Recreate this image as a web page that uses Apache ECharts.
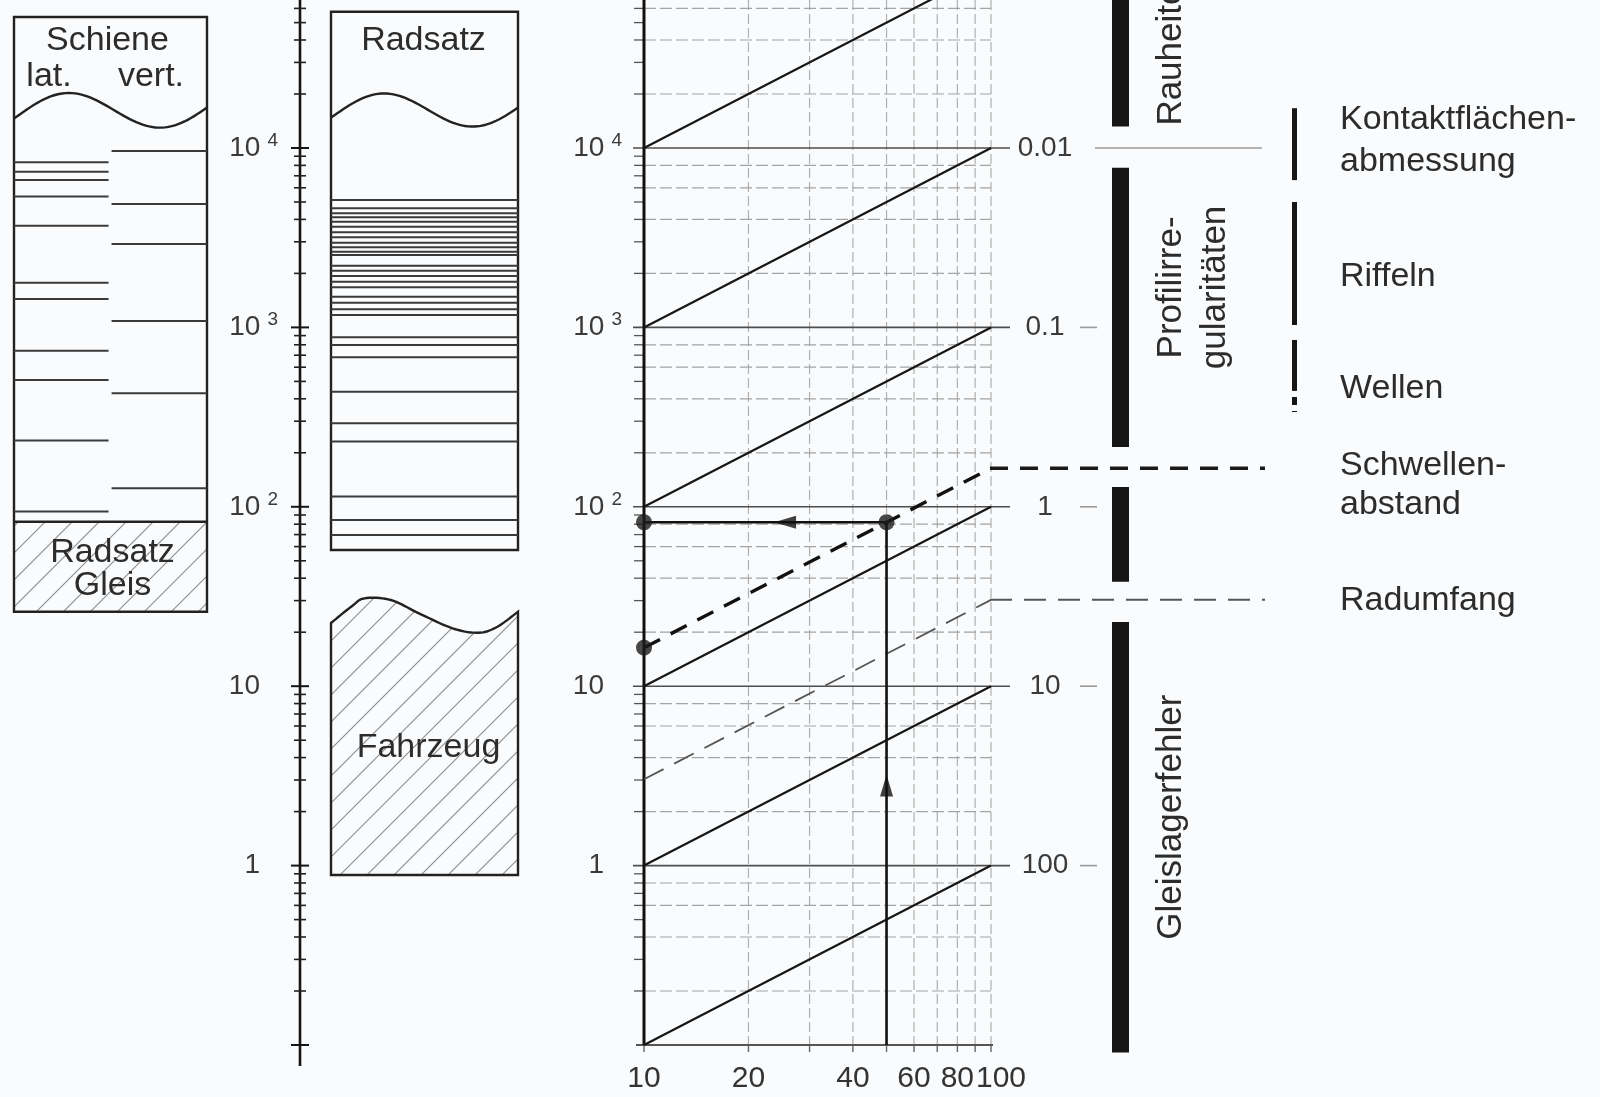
<!DOCTYPE html>
<html lang="de">
<head>
<meta charset="utf-8">
<title>Frequenz-Wellenlängen-Nomogramm</title>
<script src="https://cdn.jsdelivr.net/npm/echarts@6.0.0/dist/echarts.min.js"></script>
<style>
html,body{margin:0;padding:0;background:#f9fbfd;}
#chart{width:1600px;height:1097px;}
</style>
</head>
<body>
<div id="chart"></div>
<script>
// ================= DATA =================
const freqMin = 0.1;
const freqMax = 66830;          // upper end of the frequency scale at the top edge
const freqDecades = [0.1, 1, 10, 100, 1000, 10000];
const freqMinorSteps = [2, 3, 4, 5, 6, 7, 8, 9];
const freqGridSteps = [2, 4, 6, 8];
const freqTickValues = [1, 10, 100, 1000, 10000];
const freqTickBase = ['1', '10', '10', '10', '10'];
const freqTickExp = ['', '', '2', '3', '4'];

const speedMin = 10;
const speedMax = 100;
const speedGridValues = [10, 20, 30, 40, 50, 60, 70, 80, 90, 100];
const speedTickValues = [10, 20, 40, 60, 80, 100];
const speedTickText = ['10', '20', '40', '60', '80', '100'];

// lines of constant wavelength: frequency at v = 10 and at v = 100
const lambdaLineStart = [0.1, 1, 10, 100, 1000, 10000];
const lambdaLineEnd = [1, 10, 100, 1000, 10000, 100000];
const lambdaMin = 0.0014963;    // wavelength at the top edge (at v = 100)
const lambdaMax = 1000;
const lambdaTickValues = [0.01, 0.1, 1, 10, 100];
const lambdaTickText = ['0.01', '0.1', '1', '10', '100'];

const sleeperLine = [16.4, 164];   // Schwellenabstand (f at v=10, v=100)
const wheelLine = [3.03, 30.3];    // Radumfang
const refLambda = [0.61, 3.3];
const refNames = ['Schwellen-\nabstand', 'Radumfang'];

const examplePath = [[50, 0.1], [50, 82], [10, 82]];
const exampleDots = [[50, 82], [10, 82], [10, 16.4]];
const arrowUp = [[50, 2.8]];
const arrowLeft = [[25.5, 82]];

// Schiene panel (Hz): top, start of hatched part, bottom
const schieneBox = [53700, 82.6, 26];
const schieneLat = [8320, 7380, 6640, 5360, 3690, 1775, 1440, 741, 509, 234, 94];
const schieneVert = [9620, 4870, 2920, 1086, 430, 127];
// Radsatz / Fahrzeug panel (Hz)
const radsatzBox = [57500, 57.4];
const radsatzLines = [5130, 4610, 4325, 4110, 3885, 3640, 3390, 3178, 2966, 2796, 2642, 2533,
  2208, 2070, 1934, 1797, 1673, 1483, 1373, 1262, 1172, 881, 798, 681, 438, 292, 231, 114, 84.4, 69.6];
const fahrzeugBox = [25, 0.886];

// classification by wavelength (m)
const classNames = ['Rauheiten', 'Profilirre-\ngularitäten', '', 'Gleislagerfehler'];
const classFrom = [0.0005, 0.0129, 0.776, 4.39];
const classTo = [0.0076, 0.464, 2.62, 1100];
const featureNames = ['Kontaktflächen-\nabmessung', 'Riffeln', 'Wellen'];
const featureFrom = [0.006, 0.02, 0.1175];
const featureTo = [0.0151, 0.097, 0.226];
const featureTailTo = [null, null, 0.296];   // uncertain (broken) continuation
const boundaryLambda = 0.01;

// ================= STYLE / HELPERS =================
const FONT = "'Liberation Sans', Arial, Helvetica, sans-serif";
const INK = '#222222';
const TXT = '#2c2c2c';
const GRID_TOP = 0;
const GRID_H = 1045;

function makeHatch(size, color) {
  const c = document.createElement('canvas');
  c.width = size; c.height = size;
  const g = c.getContext('2d');
  g.strokeStyle = color; g.lineWidth = 1.1;
  g.beginPath();
  g.moveTo(0, size); g.lineTo(size, 0);
  g.moveTo(-2, 2); g.lineTo(2, -2);
  g.moveTo(size - 2, size + 2); g.lineTo(size + 2, size - 2);
  g.stroke();
  return c;
}
const hatch = { image: makeHatch(27, '#8c8c8c'), repeat: 'repeat' };

function L(x1, y1, x2, y2, color, w, dash) {
  const st = { stroke: color, lineWidth: w };
  if (dash) st.lineDash = dash;
  return { type: 'line', shape: { x1, y1, x2, y2 }, style: st };
}
function T(x, y, text, size, align, vAlign, extra) {
  const st = Object.assign({ text, fontSize: size, fontFamily: FONT, fill: TXT,
    align: align || 'center', verticalAlign: vAlign || 'middle' }, extra || {});
  return { type: 'text', x, y, style: st };
}
function fy(api, f) { return api.coord([0, f])[1]; }
function sineWave(x0, x1, yRef, c, A, p, tilt) {
  const pts = [];
  for (let i = 0; i <= 60; i++) {
    const t = i / 60;
    pts.push([x0 + t * (x1 - x0), yRef + c - A * Math.sin(2 * Math.PI * (t - p)) + tilt * (1 - 2 * t)]);
  }
  return pts;
}
function catmull(pts, n) {
  const out = [];
  for (let i = 0; i < pts.length - 1; i++) {
    const p0 = pts[Math.max(i - 1, 0)], p1 = pts[i], p2 = pts[i + 1], p3 = pts[Math.min(i + 2, pts.length - 1)];
    for (let k = 0; k < n; k++) {
      const t = k / n, t2 = t * t, t3 = t2 * t;
      out.push([0, 1].map(j => 0.5 * (2 * p1[j] + (-p0[j] + p2[j]) * t +
        (2 * p0[j] - 5 * p1[j] + 4 * p2[j] - p3[j]) * t2 + (-p0[j] + 3 * p1[j] - 3 * p2[j] + p3[j]) * t3)));
    }
  }
  out.push(pts[pts.length - 1]);
  return out;
}

// ================= RENDERERS =================
function renderSchiene(params, api) {
  const cs = params.coordSys;
  const x0 = cs.x, x1 = cs.x + cs.width;
  const xm = api.coord([0.49, 1])[0];
  const yT = fy(api, schieneBox[0]), yS = fy(api, schieneBox[1]), yB = fy(api, schieneBox[2]);
  const ch = [];
  ch.push({ type: 'rect', shape: { x: x0, y: yS, width: x1 - x0, height: yB - yS }, style: { fill: hatch, stroke: 'none' } });
  ch.push({ type: 'rect', shape: { x: x0, y: yT, width: x1 - x0, height: yB - yT }, style: { fill: 'none', stroke: INK, lineWidth: 2.4 } });
  ch.push(L(x0, yS, x1, yS, INK, 2.4));
  ch.push({ type: 'polyline', shape: { points: sineWave(x0, x1, yT, 93.5, 20, 0.02, 5.5) }, style: { fill: 'none', stroke: INK, lineWidth: 2.4 } });
  schieneLat.forEach(f => { const y = fy(api, f); ch.push(L(x0, y, xm, y, '#3a3a3a', 2)); });
  schieneVert.forEach(f => { const y = fy(api, f); ch.push(L(xm + 3, y, x1, y, '#3a3a3a', 2)); });
  ch.push(T((x0 + x1) / 2 - 3, yT + 24, 'Schiene', 34));
  ch.push(T(x0 + 35, yT + 60, 'lat.', 34));
  ch.push(T(x1 - 56, yT + 60, 'vert.', 34));
  ch.push(T((x0 + x1) / 2 + 2, yS + 31, 'Radsatz', 34));
  ch.push(T((x0 + x1) / 2 + 2, yS + 64, 'Gleis', 34));
  return { type: 'group', children: ch };
}

function renderRadsatz(params, api) {
  const cs = params.coordSys;
  const x0 = cs.x, x1 = cs.x + cs.width;
  const yT = fy(api, radsatzBox[0]), yB = fy(api, radsatzBox[1]);
  const ch = [];
  ch.push({ type: 'rect', shape: { x: x0, y: yT, width: x1 - x0, height: yB - yT }, style: { fill: 'none', stroke: INK, lineWidth: 2.4 } });
  ch.push({ type: 'polyline', shape: { points: sineWave(x0, x1, yT, 98.5, 19, 0.02, 5) }, style: { fill: 'none', stroke: INK, lineWidth: 2.4 } });
  radsatzLines.forEach(f => { const y = fy(api, f); ch.push(L(x0, y, x1, y, '#3a3a3a', 2)); });
  ch.push(T((x0 + x1) / 2 - 1, yT + 29, 'Radsatz', 34));
  // Fahrzeug
  const yF = fy(api, fahrzeugBox[0]), yFB = fy(api, fahrzeugBox[1]);
  const fr = [0, 0.108, 0.18, 0.32, 0.47, 0.65, 0.79, 0.89, 1];
  const dy = [8.2, -8.1, -16.5, -14.8, -1.5, 13.5, 17.9, 11.9, -3.1];
  const top = catmull(fr.map((t, i) => [x0 + t * (x1 - x0), yF + dy[i]]), 10);
  const poly = top.concat([[x1, yFB], [x0, yFB]]);
  ch.push({ type: 'polygon', shape: { points: poly }, style: { fill: hatch, stroke: INK, lineWidth: 2.4 } });
  ch.push(T((x0 + x1) / 2 + 4, (yF + yFB) / 2 + 3, 'Fahrzeug', 34));
  return { type: 'group', children: ch };
}

function renderLeftAxis(params, api) {
  const cs = params.coordSys;
  const x = cs.x;
  const yBot = fy(api, freqMin);
  const ch = [L(x, 0, x, yBot + 21, '#151515', 2.6)];
  freqDecades.forEach(d => {
    const y = fy(api, d);
    ch.push(L(x - 9, y, x + 9, y, '#151515', 2));
    freqMinorSteps.forEach(m => { const yy = fy(api, d * m); if (yy >= 0) ch.push(L(x - 6, yy, x + 6, yy, '#202020', 1.6)); });
  });
  return { type: 'group', children: ch };
}

function renderMainFrame(params, api) {
  const cs = params.coordSys;
  const xL = cs.x, xR = cs.x + cs.width;
  const yBot = fy(api, freqMin);
  const ch = [];
  speedGridValues.forEach(v => {
    const x = api.coord([v, freqMin])[0];
    if (v !== speedMin) ch.push(L(x, 0, x, yBot, '#b0b0b0', 1.2, [10, 4]));
    ch.push(L(x, yBot, x, yBot + 7, '#666', 1.4));
  });
  freqDecades.forEach(d => {
    freqGridSteps.forEach(m => { const y = fy(api, d * m); if (y >= 0) ch.push(L(xL, y, xR, y, '#a4a4a4', 1.2, [12, 4])); });
    freqMinorSteps.forEach(m => { const y = fy(api, d * m); if (y >= 0) ch.push(L(xL - 10, y, xL, y, '#555', 1.3)); });
    if (d > freqMin) { const y = fy(api, d); ch.push(L(xL - 11, y, xR + 19, y, '#4e4e4e', 1.6)); }
  });
  ch.push(L(xL - 8, yBot, xR + 2, yBot, '#555', 2));
  ch.push(L(xL, 0, xL, yBot, '#111', 3));
  return { type: 'group', children: ch };
}

function renderSpeedLabel(params, api) {
  const v = api.value(0);
  const p = api.coord([v, freqMin]);
  const last = params.dataIndex === speedTickText.length - 1;
  // the last label is pushed right so that it does not collide with its neighbour
  return T(p[0] + (last ? 10 : 0), p[1] + 34, speedTickText[params.dataIndex], 30, 'center', 'middle', { fill: '#333' });
}

function renderAnnotations(params, api) {
  const cs = params.coordSys;
  const X = cs.x;
  const H = 1097;
  const ch = [];
  // classification bars
  classFrom.forEach((a, i) => {
    const ya = api.coord([0, a])[1], yb = api.coord([0, classTo[i]])[1];
    ch.push({ type: 'rect', shape: { x: X + 121, y: ya, width: 17, height: yb - ya }, style: { fill: '#161616' } });
    if (classNames[i]) {
      const nLines = classNames[i].split('\n').length;
      const clipped = ya < 0;
      const yc = clipped ? yb - 1 : (ya + Math.min(yb, H)) / 2 - 20;
      ch.push({ type: 'text', x: X + 180 + (nLines - 1) * 22, y: yc, rotation: Math.PI / 2,
        style: { text: classNames[i], fontSize: 35, fontFamily: FONT, fill: TXT,
          align: clipped ? 'left' : 'center', verticalAlign: 'middle', lineHeight: 44 } });
    }
  });
  // feature segments
  featureFrom.forEach((a, i) => {
    const ya = api.coord([0, a])[1], yb = api.coord([0, featureTo[i]])[1];
    ch.push({ type: 'rect', shape: { x: X + 301, y: ya, width: 5, height: yb - ya }, style: { fill: '#161616' } });
    let yEnd = yb;
    if (featureTailTo[i]) {
      yEnd = api.coord([0, featureTailTo[i]])[1];
      ch.push(L(X + 303.5, yb + 6, X + 303.5, yEnd, '#161616', 5, [8, 6]));
    }
    const nLines = featureNames[i].split('\n').length;
    ch.push(T(X + 349, (ya + yEnd) / 2 + 34 + (nLines - 1) * 4, featureNames[i], 34, 'left', 'bottom', { lineHeight: 42 }));
  });
  // wavelength tick dashes to the right of labels
  lambdaTickValues.forEach(l => {
    const y = api.coord([0, l])[1];
    if (l === boundaryLambda) ch.push(L(X + 104, y, X + 271, y, '#9a9a9a', 1.6));
    else ch.push(L(X + 89, y, X + 106, y, '#9a9a9a', 1.6));
  });
  // reference wavelengths (sleeper spacing, wheel circumference)
  refLambda.forEach((l, i) => {
    const y = api.coord([0, l])[1];
    if (i === 0) ch.push(L(X - 1, y, X + 274, y, '#1a1a1a', 3.4, [18, 12]));
    else ch.push(L(X - 1, y, X + 274, y, '#555', 2, [22, 12]));
    const nLines = refNames[i].split('\n').length;
    ch.push(T(X + 349, y - 22 + (nLines === 1 ? 3 : 0), refNames[i], 34, 'left', 'top', { lineHeight: 39 }));
  });
  return { type: 'group', children: ch };
}

// ================= AXES =================
function freqAxis(gridIndex, withLabels) {
  const ax = { type: 'log', logBase: 10, min: freqMin, max: freqMax, gridIndex,
    axisLine: { show: false }, axisTick: { show: false }, splitLine: { show: false },
    axisLabel: { show: false } };
  if (withLabels) {
    ax.axisLabel = {
      show: true, margin: 22, showMaxLabel: false,
      formatter: function (v) {
        const i = freqTickValues.findIndex(t => Math.abs(Math.log10(t) - Math.log10(v)) < 1e-6);
        if (i < 0) return '';
        return freqTickExp[i] ? '{b|' + freqTickBase[i] + '}{s|' + freqTickExp[i] + '}'
                              : '{b|' + freqTickBase[i] + '}{p| }';
      },
      rich: {
        b: { fontSize: 28, fontFamily: FONT, color: '#3a3a3a', lineHeight: 34, verticalAlign: 'middle' },
        s: { fontSize: 19, fontFamily: FONT, color: '#3a3a3a', verticalAlign: 'top', padding: [0, 0, 0, 7] },
        p: { width: 18, fontSize: 19 }
      }
    };
  }
  return ax;
}
function hiddenX(gridIndex) {
  return { type: 'value', min: 0, max: 1, gridIndex, show: false };
}

const option = {
  backgroundColor: '#f9fbfd',
  animation: false,
  grid: [
    { left: 14, width: 193, top: GRID_TOP, height: GRID_H },
    { left: 300, width: 2, top: GRID_TOP, height: GRID_H },
    { left: 331, width: 187, top: GRID_TOP, height: GRID_H },
    { left: 644, width: 347, top: GRID_TOP, height: GRID_H },
    { left: 991, width: 609, top: GRID_TOP, height: GRID_H }
  ],
  xAxis: [
    hiddenX(0), hiddenX(1), hiddenX(2),
    { type: 'log', logBase: 10, min: speedMin, max: speedMax, gridIndex: 3, show: false },
    hiddenX(4)
  ],
  yAxis: [
    freqAxis(0, false),
    freqAxis(1, true),
    freqAxis(2, false),
    freqAxis(3, true),
    { type: 'log', logBase: 10, min: lambdaMin, max: lambdaMax, inverse: true, gridIndex: 3, position: 'right',
      axisLine: { show: false }, axisTick: { show: false }, splitLine: { show: false },
      axisLabel: { margin: 54, align: 'center', fontSize: 28, fontFamily: FONT, color: '#3a3a3a', showMinLabel: false,
        formatter: function (v) {
          const i = lambdaTickValues.findIndex(t => Math.abs(Math.log10(t) - Math.log10(v)) < 1e-6);
          return i < 0 ? '' : lambdaTickText[i];
        } } },
    { type: 'log', logBase: 10, min: lambdaMin, max: lambdaMax, inverse: true, gridIndex: 4, show: false }
  ],
  series: [
    { type: 'custom', xAxisIndex: 0, yAxisIndex: 0, data: [0], renderItem: renderSchiene, clip: false, silent: true, z: 2 },
    { type: 'custom', xAxisIndex: 1, yAxisIndex: 1, data: [0], renderItem: renderLeftAxis, clip: false, silent: true, z: 2 },
    { type: 'custom', xAxisIndex: 2, yAxisIndex: 2, data: [0], renderItem: renderRadsatz, clip: false, silent: true, z: 2 },
    { type: 'custom', xAxisIndex: 3, yAxisIndex: 3, data: [0], renderItem: renderMainFrame, clip: false, silent: true, z: 1 },
    { type: 'custom', xAxisIndex: 3, yAxisIndex: 3, data: speedTickValues.map(v => [v, freqMin]), renderItem: renderSpeedLabel, clip: false, silent: true, z: 2 },
    { type: 'custom', xAxisIndex: 4, yAxisIndex: 5, data: [0], renderItem: renderAnnotations, clip: false, silent: true, z: 2 },
    ...lambdaLineStart.map((s, i) => ({
      type: 'line', xAxisIndex: 3, yAxisIndex: 3, data: [[speedMin, s], [speedMax, lambdaLineEnd[i]]],
      symbol: 'none', lineStyle: { color: '#161616', width: 2.2 }, z: 3, silent: true, clip: true
    })),
    { type: 'line', xAxisIndex: 3, yAxisIndex: 3, data: [[speedMin, sleeperLine[0]], [speedMax, sleeperLine[1]]],
      symbol: 'none', lineStyle: { color: '#111', width: 3.4, type: [18, 12] }, z: 3, silent: true },
    { type: 'line', xAxisIndex: 3, yAxisIndex: 3, data: [[speedMin, wheelLine[0]], [speedMax, wheelLine[1]]],
      symbol: 'none', lineStyle: { color: '#555', width: 1.8, type: [22, 12] }, z: 3, silent: true },
    { type: 'line', xAxisIndex: 3, yAxisIndex: 3, data: examplePath,
      symbol: 'none', lineStyle: { color: '#111', width: 2.6 }, z: 4, silent: true },
    { type: 'scatter', xAxisIndex: 3, yAxisIndex: 3, data: exampleDots, symbol: 'circle', symbolSize: 16,
      itemStyle: { color: '#1a1a1a' }, z: 5, silent: true },
    { type: 'scatter', xAxisIndex: 3, yAxisIndex: 3, data: arrowUp, symbol: 'triangle', symbolSize: [13, 22],
      itemStyle: { color: '#111' }, z: 5, silent: true },
    { type: 'scatter', xAxisIndex: 3, yAxisIndex: 3, data: arrowLeft, symbol: 'triangle', symbolSize: [13, 22], symbolRotate: 90,
      itemStyle: { color: '#111' }, z: 5, silent: true }
  ]
};

const chart = echarts.init(document.getElementById('chart'), null, { renderer: 'canvas', width: 1600, height: 1097 });
chart.setOption(option);
</script>
</body>
</html>
